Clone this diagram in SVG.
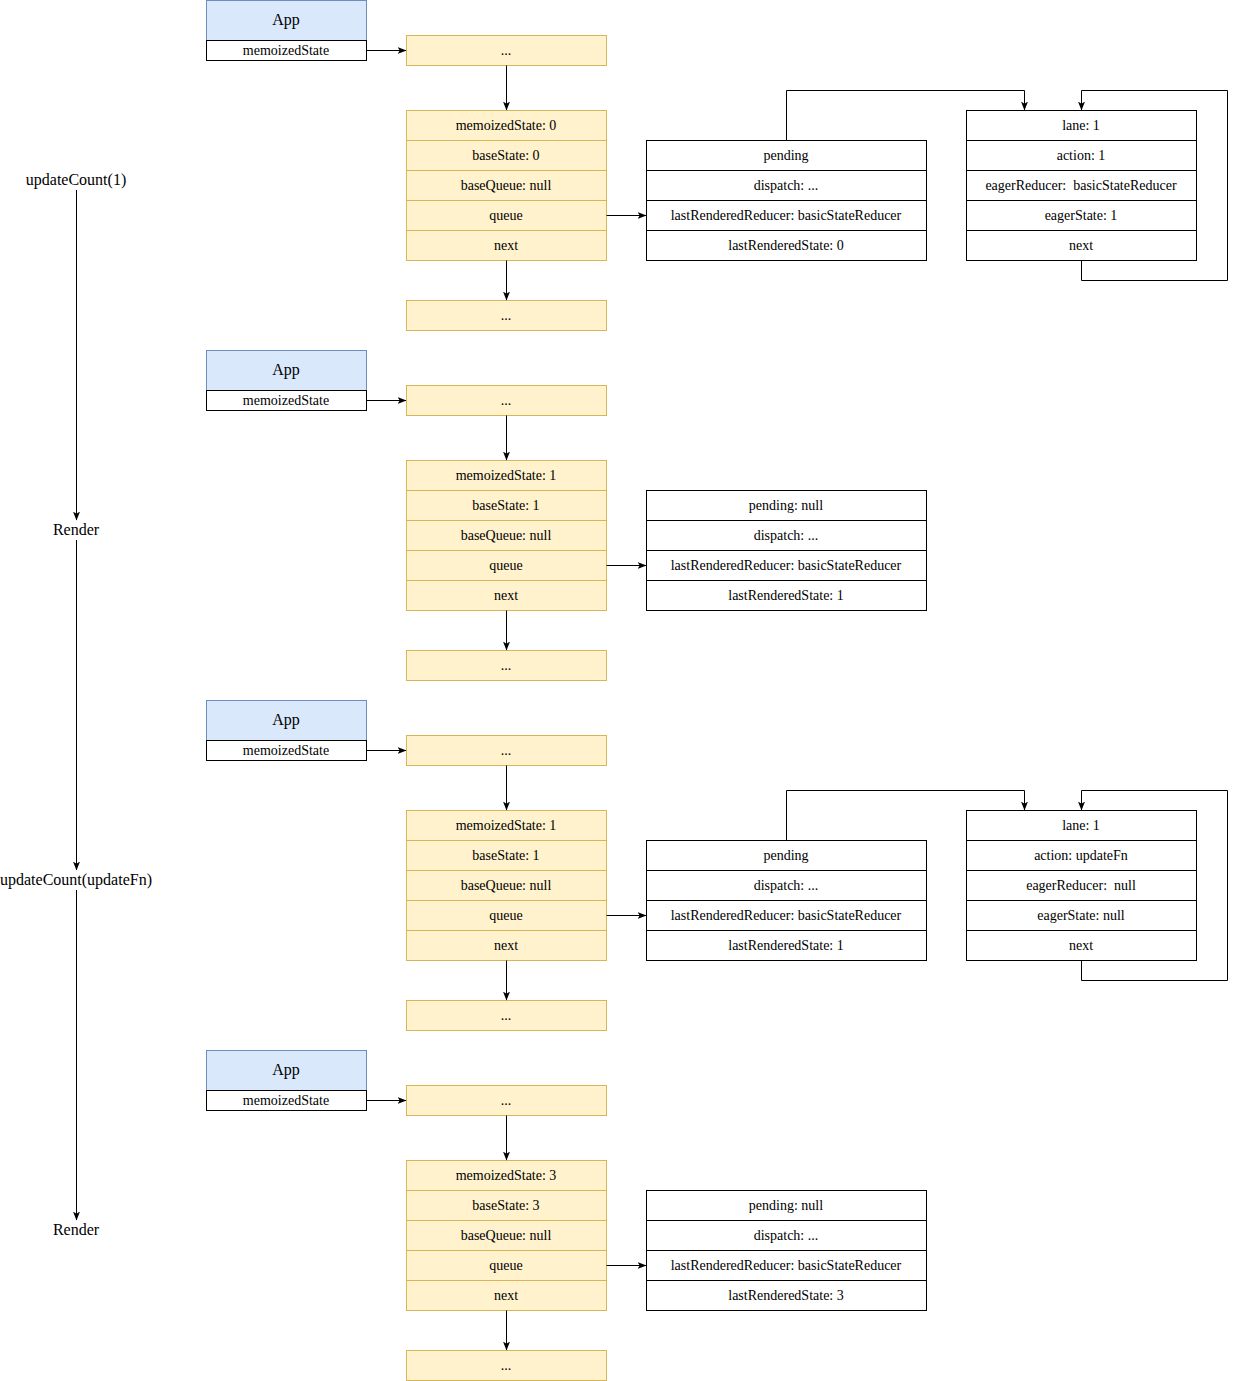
<svg xmlns="http://www.w3.org/2000/svg" width="1236" height="1381" viewBox="0 0 1236 1381">
<style>
text{font-family:"Liberation Serif","Times New Roman",serif;font-size:14px;text-anchor:middle;fill:#000;white-space:pre}
.big{font-size:16px}
.app{fill:#dae8fc;stroke:#6c8ebf;stroke-width:1}
.y{fill:#fff2cc;stroke:#d6b656;stroke-width:1}
.w{fill:#fff;stroke:#000;stroke-width:1}
.c{fill:none;stroke:#000;stroke-width:1}
</style>
<defs>
<marker id="a" markerWidth="10" markerHeight="9" refX="8.5" refY="4.5" orient="auto" markerUnits="userSpaceOnUse">
<path d="M0,1 L9,4.5 L0,8 L2.2,4.5 z" fill="#000"/>
</marker>
</defs>

<g id="timeline">
<text class="big" x="76" y="185">updateCount(1)</text>
<text class="big" x="76" y="535">Render</text>
<text class="big" x="76" y="885">updateCount(updateFn)</text>
<text class="big" x="76" y="1235">Render</text>
</g>

<!-- Section 1 -->
<g id="app1"><rect class="app" x="206.5" y="0.5" width="160" height="40"/><text class="big" x="286" y="25">App</text><rect class="w" x="206.5" y="40.5" width="160" height="20"/><text x="286" y="55">memoizedState</text></g>
<g id="hookTop1"><rect class="y" x="406.5" y="35.5" width="200" height="30"/><text x="506" y="55">...</text></g>
<g id="hook1">
<rect class="y" x="406.5" y="110.5" width="200" height="30"/><text x="506" y="130">memoizedState: 0</text>
<rect class="y" x="406.5" y="140.5" width="200" height="30"/><text x="506" y="160">baseState: 0</text>
<rect class="y" x="406.5" y="170.5" width="200" height="30"/><text x="506" y="190">baseQueue: null</text>
<rect class="y" x="406.5" y="200.5" width="200" height="30"/><text x="506" y="220">queue</text>
<rect class="y" x="406.5" y="230.5" width="200" height="30"/><text x="506" y="250">next</text>
</g>
<g id="hookBottom1"><rect class="y" x="406.5" y="300.5" width="200" height="30"/><text x="506" y="320">...</text></g>
<g id="queue1">
<rect class="w" x="646.5" y="140.5" width="280" height="30"/><text x="786" y="160">pending</text>
<rect class="w" x="646.5" y="170.5" width="280" height="30"/><text x="786" y="190">dispatch: ...</text>
<rect class="w" x="646.5" y="200.5" width="280" height="30"/><text x="786" y="220">lastRenderedReducer: basicStateReducer</text>
<rect class="w" x="646.5" y="230.5" width="280" height="30"/><text x="786" y="250">lastRenderedState: 0</text>
</g>
<g id="update1">
<rect class="w" x="966.5" y="110.5" width="230" height="30"/><text x="1081" y="130">lane: 1</text>
<rect class="w" x="966.5" y="140.5" width="230" height="30"/><text x="1081" y="160">action: 1</text>
<rect class="w" x="966.5" y="170.5" width="230" height="30"/><text x="1081" y="190" xml:space="preserve">eagerReducer:  basicStateReducer</text>
<rect class="w" x="966.5" y="200.5" width="230" height="30"/><text x="1081" y="220">eagerState: 1</text>
<rect class="w" x="966.5" y="230.5" width="230" height="30"/><text x="1081" y="250">next</text>
</g>

<!-- Section 2 -->
<g id="app2"><rect class="app" x="206.5" y="350.5" width="160" height="40"/><text class="big" x="286" y="375">App</text><rect class="w" x="206.5" y="390.5" width="160" height="20"/><text x="286" y="405">memoizedState</text></g>
<g id="hookTop2"><rect class="y" x="406.5" y="385.5" width="200" height="30"/><text x="506" y="405">...</text></g>
<g id="hook2">
<rect class="y" x="406.5" y="460.5" width="200" height="30"/><text x="506" y="480">memoizedState: 1</text>
<rect class="y" x="406.5" y="490.5" width="200" height="30"/><text x="506" y="510">baseState: 1</text>
<rect class="y" x="406.5" y="520.5" width="200" height="30"/><text x="506" y="540">baseQueue: null</text>
<rect class="y" x="406.5" y="550.5" width="200" height="30"/><text x="506" y="570">queue</text>
<rect class="y" x="406.5" y="580.5" width="200" height="30"/><text x="506" y="600">next</text>
</g>
<g id="hookBottom2"><rect class="y" x="406.5" y="650.5" width="200" height="30"/><text x="506" y="670">...</text></g>
<g id="queue2">
<rect class="w" x="646.5" y="490.5" width="280" height="30"/><text x="786" y="510">pending: null</text>
<rect class="w" x="646.5" y="520.5" width="280" height="30"/><text x="786" y="540">dispatch: ...</text>
<rect class="w" x="646.5" y="550.5" width="280" height="30"/><text x="786" y="570">lastRenderedReducer: basicStateReducer</text>
<rect class="w" x="646.5" y="580.5" width="280" height="30"/><text x="786" y="600">lastRenderedState: 1</text>
</g>

<!-- Section 3 -->
<g id="app3"><rect class="app" x="206.5" y="700.5" width="160" height="40"/><text class="big" x="286" y="725">App</text><rect class="w" x="206.5" y="740.5" width="160" height="20"/><text x="286" y="755">memoizedState</text></g>
<g id="hookTop3"><rect class="y" x="406.5" y="735.5" width="200" height="30"/><text x="506" y="755">...</text></g>
<g id="hook3">
<rect class="y" x="406.5" y="810.5" width="200" height="30"/><text x="506" y="830">memoizedState: 1</text>
<rect class="y" x="406.5" y="840.5" width="200" height="30"/><text x="506" y="860">baseState: 1</text>
<rect class="y" x="406.5" y="870.5" width="200" height="30"/><text x="506" y="890">baseQueue: null</text>
<rect class="y" x="406.5" y="900.5" width="200" height="30"/><text x="506" y="920">queue</text>
<rect class="y" x="406.5" y="930.5" width="200" height="30"/><text x="506" y="950">next</text>
</g>
<g id="hookBottom3"><rect class="y" x="406.5" y="1000.5" width="200" height="30"/><text x="506" y="1020">...</text></g>
<g id="queue3">
<rect class="w" x="646.5" y="840.5" width="280" height="30"/><text x="786" y="860">pending</text>
<rect class="w" x="646.5" y="870.5" width="280" height="30"/><text x="786" y="890">dispatch: ...</text>
<rect class="w" x="646.5" y="900.5" width="280" height="30"/><text x="786" y="920">lastRenderedReducer: basicStateReducer</text>
<rect class="w" x="646.5" y="930.5" width="280" height="30"/><text x="786" y="950">lastRenderedState: 1</text>
</g>
<g id="update3">
<rect class="w" x="966.5" y="810.5" width="230" height="30"/><text x="1081" y="830">lane: 1</text>
<rect class="w" x="966.5" y="840.5" width="230" height="30"/><text x="1081" y="860">action: updateFn</text>
<rect class="w" x="966.5" y="870.5" width="230" height="30"/><text x="1081" y="890" xml:space="preserve">eagerReducer:  null</text>
<rect class="w" x="966.5" y="900.5" width="230" height="30"/><text x="1081" y="920">eagerState: null</text>
<rect class="w" x="966.5" y="930.5" width="230" height="30"/><text x="1081" y="950">next</text>
</g>

<!-- Section 4 -->
<g id="app4"><rect class="app" x="206.5" y="1050.5" width="160" height="40"/><text class="big" x="286" y="1075">App</text><rect class="w" x="206.5" y="1090.5" width="160" height="20"/><text x="286" y="1105">memoizedState</text></g>
<g id="hookTop4"><rect class="y" x="406.5" y="1085.5" width="200" height="30"/><text x="506" y="1105">...</text></g>
<g id="hook4">
<rect class="y" x="406.5" y="1160.5" width="200" height="30"/><text x="506" y="1180">memoizedState: 3</text>
<rect class="y" x="406.5" y="1190.5" width="200" height="30"/><text x="506" y="1210">baseState: 3</text>
<rect class="y" x="406.5" y="1220.5" width="200" height="30"/><text x="506" y="1240">baseQueue: null</text>
<rect class="y" x="406.5" y="1250.5" width="200" height="30"/><text x="506" y="1270">queue</text>
<rect class="y" x="406.5" y="1280.5" width="200" height="30"/><text x="506" y="1300">next</text>
</g>
<g id="hookBottom4"><rect class="y" x="406.5" y="1350.5" width="200" height="30"/><text x="506" y="1370">...</text></g>
<g id="queue4">
<rect class="w" x="646.5" y="1190.5" width="280" height="30"/><text x="786" y="1210">pending: null</text>
<rect class="w" x="646.5" y="1220.5" width="280" height="30"/><text x="786" y="1240">dispatch: ...</text>
<rect class="w" x="646.5" y="1250.5" width="280" height="30"/><text x="786" y="1270">lastRenderedReducer: basicStateReducer</text>
<rect class="w" x="646.5" y="1280.5" width="280" height="30"/><text x="786" y="1300">lastRenderedState: 3</text>
</g>

<g id="connectors">
<path class="c" d="M76.5,190 V520" marker-end="url(#a)"/>
<path class="c" d="M76.5,540 V870" marker-end="url(#a)"/>
<path class="c" d="M76.5,890 V1220" marker-end="url(#a)"/>

<path class="c" d="M366.5,50.5 H406" marker-end="url(#a)"/>
<path class="c" d="M506.5,65.5 V110" marker-end="url(#a)"/>
<path class="c" d="M506.5,260.5 V300" marker-end="url(#a)"/>
<path class="c" d="M606.5,215.5 H646" marker-end="url(#a)"/>
<path class="c" d="M786.5,140.5 V90.5 H1024.5 V110" marker-end="url(#a)"/>
<path class="c" d="M1081.5,260.5 V280.5 H1227.5 V90.5 H1081.5 V110" marker-end="url(#a)"/>

<path class="c" d="M366.5,400.5 H406" marker-end="url(#a)"/>
<path class="c" d="M506.5,415.5 V460" marker-end="url(#a)"/>
<path class="c" d="M506.5,610.5 V650" marker-end="url(#a)"/>
<path class="c" d="M606.5,565.5 H646" marker-end="url(#a)"/>

<path class="c" d="M366.5,750.5 H406" marker-end="url(#a)"/>
<path class="c" d="M506.5,765.5 V810" marker-end="url(#a)"/>
<path class="c" d="M506.5,960.5 V1000" marker-end="url(#a)"/>
<path class="c" d="M606.5,915.5 H646" marker-end="url(#a)"/>
<path class="c" d="M786.5,840.5 V790.5 H1024.5 V810" marker-end="url(#a)"/>
<path class="c" d="M1081.5,960.5 V980.5 H1227.5 V790.5 H1081.5 V810" marker-end="url(#a)"/>

<path class="c" d="M366.5,1100.5 H406" marker-end="url(#a)"/>
<path class="c" d="M506.5,1115.5 V1160" marker-end="url(#a)"/>
<path class="c" d="M506.5,1310.5 V1350" marker-end="url(#a)"/>
<path class="c" d="M606.5,1265.5 H646" marker-end="url(#a)"/>
</g>
</svg>
